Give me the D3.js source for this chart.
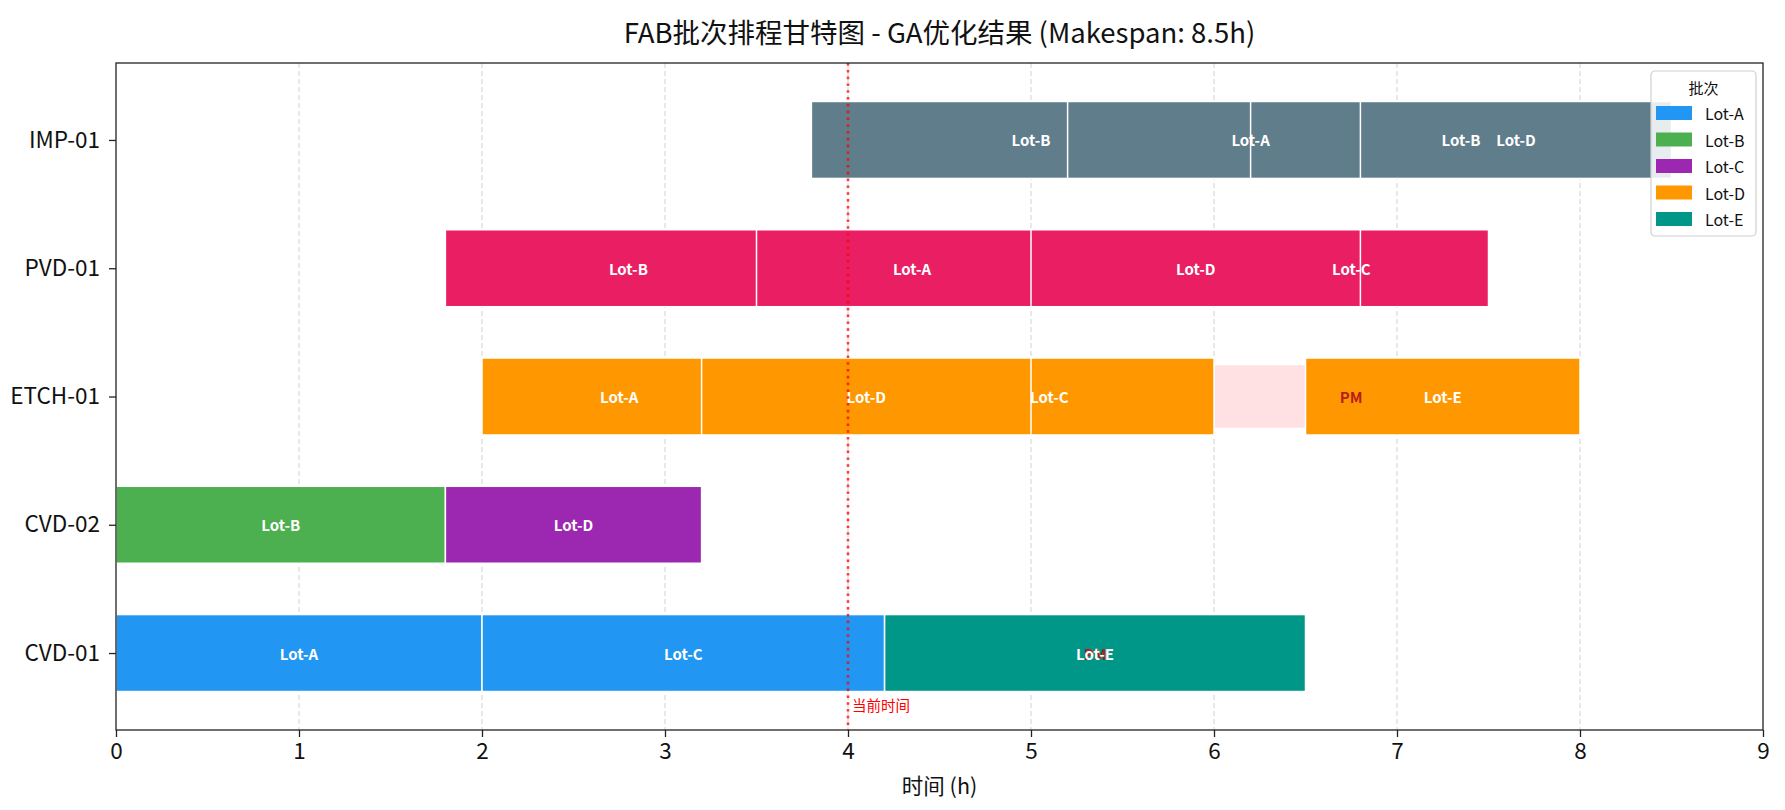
<!DOCTYPE html>
<html>
<head>
<meta charset="utf-8">
<script src="https://cdn.jsdelivr.net/npm/d3@7"></script>
<style>
  html, body { margin: 0; padding: 0; background: #fff; }
  svg { display: block; font-family: "Noto Sans CJK SC", "Noto Sans", sans-serif; }
</style>
</head>
<body>
<svg id="chart" width="1785" height="810"></svg>
<script>
// ---------- data ----------
const machines = ["CVD-01", "CVD-02", "ETCH-01", "PVD-01", "IMP-01"];
const lots = ["Lot-A", "Lot-B", "Lot-C", "Lot-D", "Lot-E"];
const lotColors = ["#2196F3", "#4CAF50", "#9C27B0", "#FF9800", "#009688"];
const extraColors = ["#E91E63", "#607D8B"]; // palette entries 5, 6
const xTicks = [0, 1, 2, 3, 4, 5, 6, 7, 8, 9];

// tasks in drawing order
const taskMachine = ["CVD-01","CVD-01","CVD-01","CVD-02","CVD-02",
  "ETCH-01","ETCH-01","ETCH-01","ETCH-01",
  "PVD-01","PVD-01","PVD-01","PVD-01",
  "IMP-01","IMP-01","IMP-01","IMP-01"];
const taskLot = ["Lot-A","Lot-C","Lot-E","Lot-B","Lot-D",
  "Lot-A","Lot-C","Lot-D","Lot-E",
  "Lot-B","Lot-A","Lot-C","Lot-D",
  "Lot-B","Lot-A","Lot-B","Lot-D"];
const taskStart = [0, 2.0, 4.2, 0, 1.8,
  2.0, 4.2, 3.2, 6.5,
  1.8, 3.5, 6.0, 5.0,
  3.8, 5.2, 6.2, 6.8];
const taskEnd = [2.0, 4.2, 6.5, 1.8, 3.2,
  3.5, 6.0, 5.0, 8.0,
  3.8, 5.2, 7.5, 6.8,
  6.2, 7.2, 8.5, 8.5];
const taskPalette = [0, 0, 4, 1, 2,
  3, 3, 3, 3,
  5, 5, 5, 5,
  6, 6, 6, 6];

const pmMachine = ["ETCH-01", "CVD-01"];
const pmStart = [6.0, 5.0];
const pmEnd = [7.5, 5.7];

const currentTime = 4;
const titleText = "FAB批次排程甘特图 - GA优化结果 (Makespan: 8.5h)";

// ---------- layout ----------
const palette = lotColors.concat(extraColors);
const svg = d3.select("#chart");
const L = 116, R = 1763, T = 63, B = 730;

const x = d3.scaleLinear().domain([0, 9]).range([L, R]);
const y = d3.scaleLinear().domain([-0.6, 4.6]).range([B, T]);
const yIdx = m => machines.indexOf(m);
const unit = y(0) - y(1);
const barH = 0.6 * unit;
const pmH = 0.5 * unit;

// grid
svg.append("g").selectAll("line").data(xTicks.slice(1, -1)).join("line")
  .attr("x1", d => x(d)).attr("x2", d => x(d))
  .attr("y1", T).attr("y2", B)
  .attr("stroke", "#d9d9d9").attr("stroke-width", 1.2)
  .attr("stroke-dasharray", "5,3");

// PM blocks (underneath)
const pms = pmMachine.map((m, i) => ({ m, s: pmStart[i], e: pmEnd[i] }));
svg.append("g").selectAll("rect").data(pms).join("rect")
  .attr("x", d => x(d.s)).attr("width", d => x(d.e) - x(d.s))
  .attr("y", d => y(yIdx(d.m)) - pmH / 2).attr("height", pmH)
  .attr("fill", "#FFCDD2").attr("fill-opacity", 0.6)
  .attr("stroke", "#fff").attr("stroke-width", 1.5);

// tasks
const tasks = taskMachine.map((m, i) => ({
  m, lot: taskLot[i], s: taskStart[i], e: taskEnd[i], c: palette[taskPalette[i]]
}));
svg.append("g").selectAll("rect").data(tasks).join("rect")
  .attr("x", d => x(d.s)).attr("width", d => x(d.e) - x(d.s))
  .attr("y", d => y(yIdx(d.m)) - barH / 2).attr("height", barH)
  .attr("fill", d => d.c)
  .attr("stroke", "#fff").attr("stroke-width", 1.5);

// PM labels
svg.append("g").selectAll("text").data(pms).join("text")
  .attr("x", d => x((d.s + d.e) / 2)).attr("y", d => y(yIdx(d.m)))
  .attr("text-anchor", "middle").attr("dominant-baseline", "central")
  .attr("font-size", 15).attr("font-weight", "bold").attr("fill", "#B71C1C")
  .text("PM");

// lot labels
svg.append("g").selectAll("text").data(tasks).join("text")
  .attr("x", d => x((d.s + d.e) / 2)).attr("y", d => y(yIdx(d.m)))
  .attr("text-anchor", "middle").attr("dominant-baseline", "central")
  .attr("font-size", 15).attr("font-weight", "bold").attr("fill", "#fff")
  .text(d => d.lot);

// current time line
svg.append("line")
  .attr("x1", x(currentTime)).attr("x2", x(currentTime))
  .attr("y1", T).attr("y2", B)
  .attr("stroke", "#ff0000").attr("stroke-opacity", 0.75)
  .attr("stroke-width", 2.6).attr("stroke-dasharray", "2.6,4.2");
svg.append("text")
  .attr("x", x(currentTime) + 4).attr("y", y(-0.4))
  .attr("dominant-baseline", "central")
  .attr("font-size", 14.5).attr("fill", "#ff0000")
  .text("当前时间");

// axes
const xAxis = svg.append("g").attr("transform", `translate(0,${B})`)
  .call(d3.axisBottom(x).tickValues(xTicks).tickFormat(d3.format("d")).tickSizeOuter(0).tickSize(7).tickPadding(6));
const yAxis = svg.append("g").attr("transform", `translate(${L},0)`)
  .call(d3.axisLeft(y).tickValues(d3.range(machines.length)).tickFormat(i => machines[i]).tickSizeOuter(0).tickSize(7).tickPadding(9));
[xAxis, yAxis].forEach(g => {
  g.select(".domain").remove();
  g.selectAll(".tick line").attr("stroke", "#222").attr("stroke-width", 1.3);
  g.selectAll(".tick text").attr("fill", "#111").attr("font-size", 22.5)
    .attr("font-family", '"Noto Sans CJK SC", "Noto Sans", sans-serif');
});

// frame
svg.append("rect").attr("x", L).attr("y", T).attr("width", R - L).attr("height", B - T)
  .attr("fill", "none").attr("stroke", "#222").attr("stroke-width", 1.3);

// title & labels
svg.append("text").attr("x", (L + R) / 2).attr("y", 31)
  .attr("text-anchor", "middle").attr("dominant-baseline", "central")
  .attr("font-size", 27.5).attr("fill", "#111").text(titleText);
svg.append("text").attr("x", (L + R) / 2).attr("y", 784)
  .attr("text-anchor", "middle").attr("dominant-baseline", "central")
  .attr("font-size", 21.5).attr("fill", "#111").text("时间 (h)");

// legend
const lg = svg.append("g").attr("transform", "translate(1651,71)");
lg.append("rect").attr("width", 105).attr("height", 165).attr("rx", 4)
  .attr("fill", "#fff").attr("fill-opacity", 0.85)
  .attr("stroke", "#d0d0d0").attr("stroke-width", 1.2);
lg.append("text").attr("x", 52.5).attr("y", 16)
  .attr("text-anchor", "middle").attr("dominant-baseline", "central")
  .attr("font-size", 15).attr("fill", "#111").text("批次");
const li = lg.selectAll(".li").data(lots).join("g").attr("class", "li")
  .attr("transform", (d, i) => `translate(0,${42 + i * 26.5})`);
li.append("rect").attr("x", 5).attr("y", -7).attr("width", 36).attr("height", 14)
  .attr("fill", (d, i) => lotColors[i]);
li.append("text").attr("x", 54).attr("y", 0).attr("dominant-baseline", "central")
  .attr("font-size", 16).attr("fill", "#111").text(d => d);
</script>
</body>
</html>
